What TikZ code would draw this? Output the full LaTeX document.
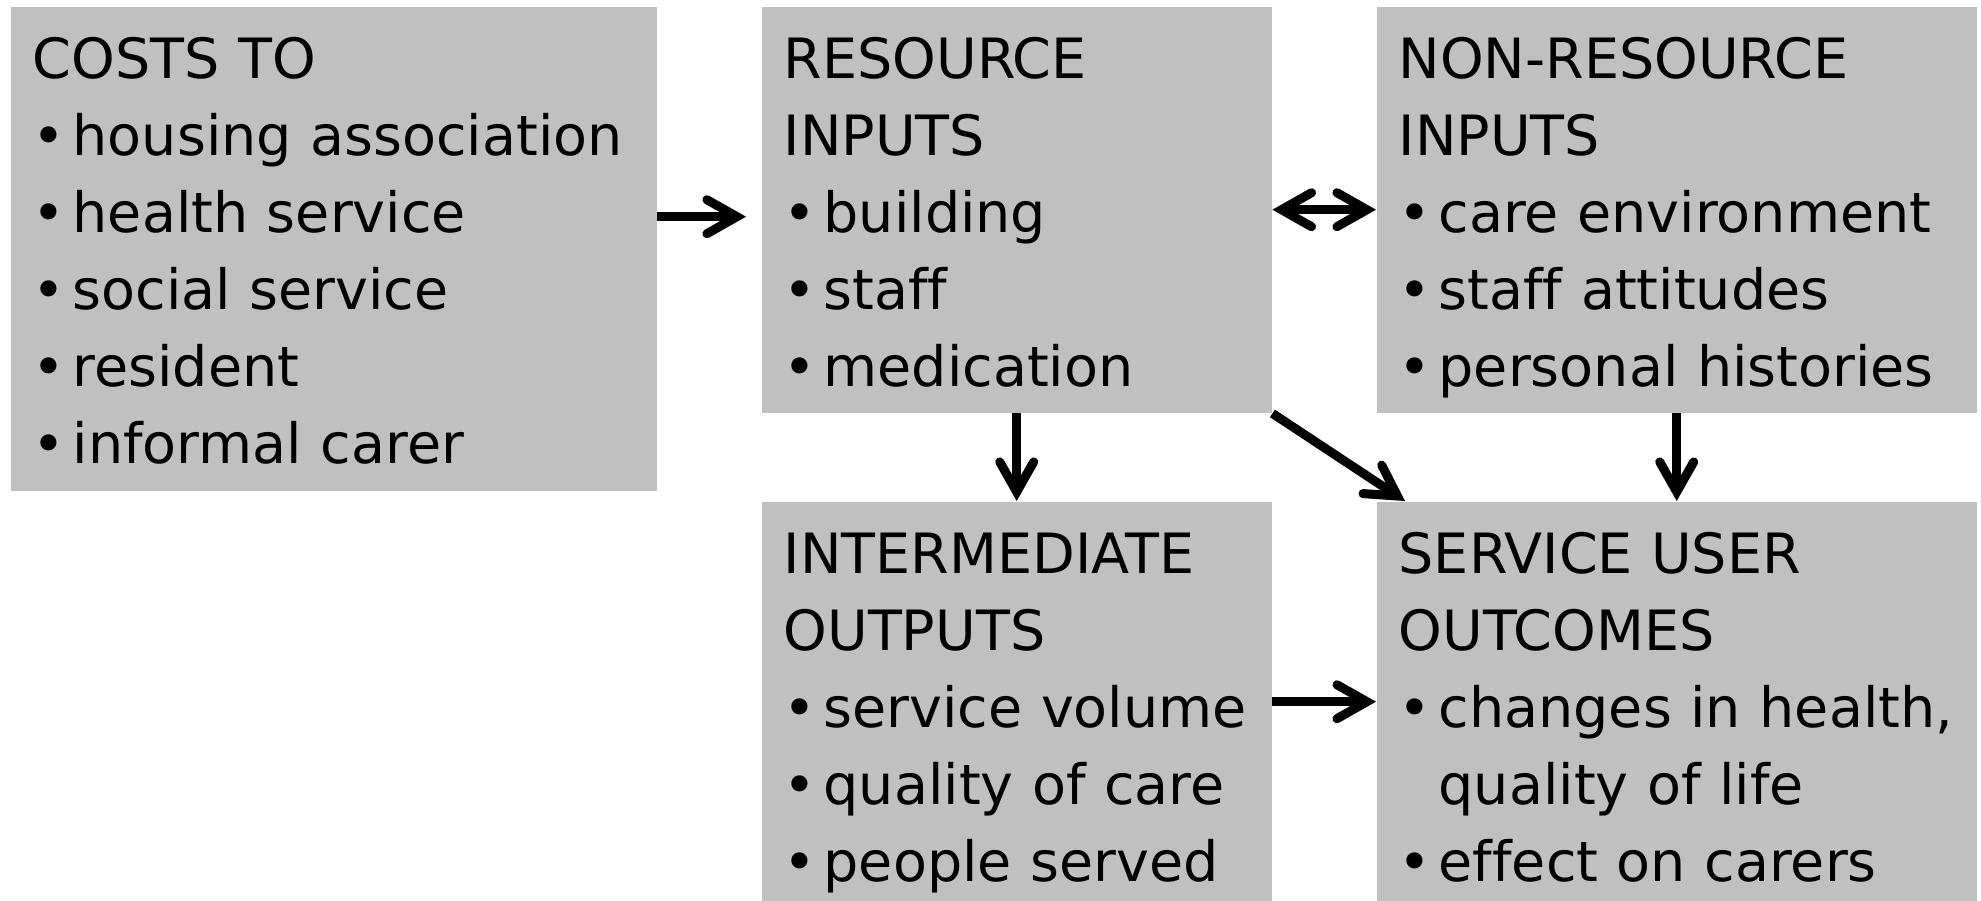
\documentclass[tikz,border=0pt]{standalone}
\usepackage{fontspec}
\setmainfont{DejaVu Sans}[Ligatures=NoCommon]
\usepackage{tikz}
\usetikzlibrary{arrows.meta,positioning,calc}

\definecolor{boxgray}{RGB}{192,192,192}
\newcommand{\blt}{\makebox[0.40cm][l]{•}}   % vineta
\newcommand{\cont}{\hspace*{0.40cm}}        % sangria

\tikzset{
	box/.style = {fill=boxgray, anchor=north west, align=left,
		inner xsep=0.22cm, inner ysep=0pt,
		font=\fontsize{15.8}{21.9}\selectfont, text height=0.72cm},
	arr/.style = {-{Straight Barb[length=0.30cm,width=0.34cm,line cap=round]}, line width=0.09cm},
	darr/.style = {{Straight Barb[length=0.30cm,width=0.34cm,line cap=round]}-{Straight Barb[length=0.30cm,width=0.34cm,line cap=round]}, line width=0.09cm}
}

\begin{document}
\begin{tikzpicture}
	        \useasboundingbox (0,0) rectangle (19.81,-9.01);
	        % Cajas superiores
	        \node[box, text width=6.02cm, text depth=4.12cm] (costs) at (0.10,-0.06)
	            {COSTS TO\\ \blt housing association\\ \blt health service\\ \blt social service\\ \blt resident\\ \blt informal carer};
	        \node[box, text width=4.66cm, text depth=3.34cm] (res) at (7.61,-0.06)
	            {RESOURCE\\ INPUTS\\ \blt building\\ \blt staff\\ \blt medication};
	        \node[box, text width=5.56cm, text depth=3.34cm] (nonres) at (13.76,-0.06)
	            {NON-RESOURCE\\ INPUTS\\ \blt care environment\\ \blt staff attitudes\\ \blt personal histories};
	        % Cajas inferiores
	        \node[box, text width=4.66cm, text depth=3.28cm] (inter) at (7.61,-5.01)
	            {INTERMEDIATE\\ OUTPUTS\\ \blt service volume\\ \blt quality of care\\ \blt people served};
	        \node[box, text width=5.56cm, text depth=3.28cm] (serv) at (13.76,-5.01)
	            {SERVICE USER\\ OUTCOMES\\ \blt changes in health,\\ \cont quality of life\\ \blt effect on carers};
	        % Flechas
	        \draw[arr] ([yshift=-0.07cm]costs.east |- res.west) -- ([xshift=-0.15cm,yshift=-0.07cm]res.west);
	        \draw[darr] (res.east) -- (nonres.west);
	        \foreach \a/\b in {res/inter, nonres/serv}
	            \draw[arr] (\a.south) -- (\b.north);
	        \draw[arr] (res.south east) -- ([xshift=0.29cm]serv.north west);
	        \draw[arr] (inter.east) -- (serv.west);
	    \end{tikzpicture}
\end{document}
